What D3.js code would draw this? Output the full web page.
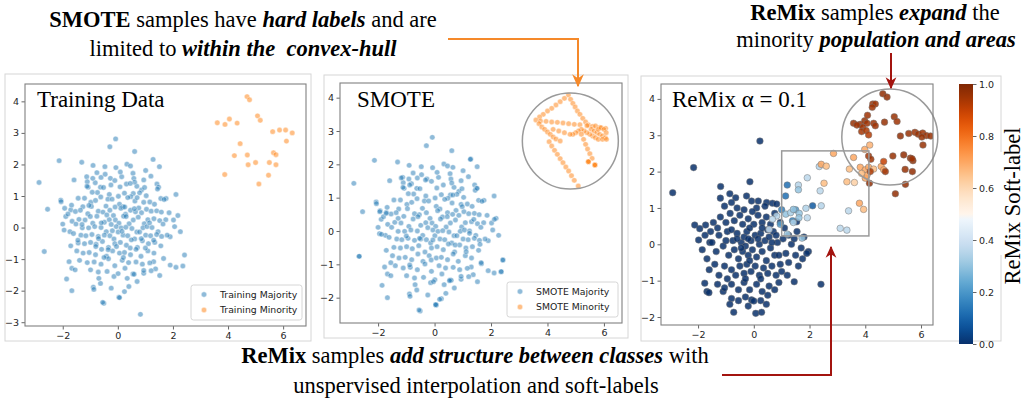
<!DOCTYPE html>
<html>
<head>
<meta charset="utf-8">
<script src="https://cdn.jsdelivr.net/npm/d3@7"></script>
<style>
body{margin:0;background:#fff}
svg{display:block}
.note{font-family:"Liberation Serif";font-size:22.5px;fill:#000;white-space:pre}
.ttl{font-family:"Liberation Serif";font-size:23px;fill:#000}
.leg{font-family:"DejaVu Sans";font-size:9.3px;fill:#222}
</style>
</head>
<body>
<svg id="fig" width="1025" height="403"></svg>
<script>
// ---- data ----
const xTicks = [-2, 0, 2, 4, 6]
const yTicksTrain = [-3, -2, -1, 0, 1, 2, 3, 4]
const yTicksOther = [-2, -1, 0, 1, 2, 3, 4]
const cbTicks = [0, 0.2, 0.4, 0.6, 0.8, 1.0]

// majority points (shared by Training and SMOTE panels)
const majorityPts = [
  [-2.86,1.43],[-2.55,0.58],[-2.67,-0.76],[-2.13,2.12],[-1.31,2.07],[-0.90,1.97],[-0.08,2.81],[-0.29,2.56],[0.61,2.41],
  [0.33,2.01],[0.46,1.95],[1.28,2.16],[1.51,1.93],[-0.47,1.93],[-0.07,1.90],[-2.07,0.87],[-2.06,0.82],[-1.93,0.61],
  [-1.71,0.56],[-1.59,1.51],[-1.13,1.61],[-1.11,1.45],[-1.08,1.28],[-0.63,1.28],[-0.27,1.56],[0.55,1.72],[0.58,1.56],
  [1.20,1.63],[1.42,1.38],[1.48,1.28],[1.75,0.92],[2.11,1.05],[2.18,0.38],[2.27,-0.13],[2.06,0.03],[1.90,-0.29],
  [2.42,-0.87],[2.36,-1.22],[2.11,-1.26],[1.90,-1.19],[1.66,-0.98],[1.52,-1.52],[1.37,-1.31],[-0.51,-2.40],[-0.55,-2.37],
  [0.04,-2.21],[0.06,-2.22],[0.24,-2.03],[-0.24,-1.92],[-0.89,-1.89],[-0.87,-1.96],[-1.67,-2.0],[-1.86,-1.63],[-1.67,-1.29],
  [-1.55,-1.34],[-1.77,-1.08],[-1.95,-0.08],[-2.0,0.11],[-1.89,0.35],[-0.63,-1.77],[-0.69,-1.61],[-0.14,-1.55],[0.34,-1.61],
  [0.55,-1.47],[0.70,-1.71],[0.40,-1.87],[0.94,-1.45],[1.30,-1.08],
  [-1.12,1.31],[-0.82,1.42],[-0.74,1.11],[-0.52,1.27],[-0.31,1.05],[0.08,1.29],[0.31,1.38],[0.56,1.08],[0.69,1.31],
  [0.86,1.19],[0.97,1.27],[1.03,1.01],[1.44,1.22],[-1.21,0.93],[-0.93,1.12],[-0.36,0.90],[0.02,0.99],[0.24,1.09],
  [0.47,0.98],[0.79,1.10],[1.56,0.92],[-1.68,0.71],[-1.44,0.93],[-1.27,0.66],[-0.98,0.80],[-0.81,0.86],[-0.62,0.97],
  [-0.43,0.68],[-0.21,0.90],[0.06,0.74],[0.19,0.66],[0.36,0.95],[0.62,0.84],[0.76,0.62],[0.94,0.80],[1.16,0.81],
  [1.33,0.74],[1.68,0.89],[-1.81,0.43],[-1.54,0.51],[-1.36,0.55],[-1.09,0.44],[-0.96,0.67],[-0.71,0.52],[-0.54,0.49],
  [-0.29,0.55],[-0.16,0.38],[0.11,0.61],[0.28,0.42],[0.46,0.55],[0.64,0.50],[0.86,0.47],[1.04,0.58],[1.21,0.52],
  [1.41,0.53],[1.58,0.49],[1.86,0.47],[-1.66,0.20],[-1.41,0.26],[-1.19,0.24],[-0.91,0.14],[-0.76,0.36],[-0.49,0.17],
  [-0.31,0.25],[-0.09,0.24],[0.04,0.14],[0.21,0.36],[0.41,0.12],[0.56,0.24],[0.74,0.33],[0.96,0.12],[1.09,0.25],
  [1.31,0.28],[1.52,0.22],[1.74,0.25],[2.02,0.24],[-1.74,-0.13],[-1.52,0.11],[-1.29,-0.01],[-1.06,-0.01],[-0.84,0.03],
  [-0.61,0.00],[-0.42,-0.13],[-0.24,0.10],[-0.06,0.03],[0.12,-0.01],[0.29,0.01],[0.51,-0.03],[0.69,-0.14],[0.91,-0.01],
  [1.06,0.03],[1.24,0.00],[1.46,-0.13],[1.64,0.11],[-1.61,-0.19],[-1.34,-0.24],[-1.16,-0.26],[-0.94,-0.22],[-0.71,-0.28],
  [-0.49,-0.24],[-0.29,-0.26],[-0.14,-0.36],[0.01,-0.14],[0.19,-0.24],[0.36,-0.26],[0.61,-0.36],[0.79,-0.14],[1.01,-0.24],
  [1.19,-0.26],[1.41,-0.22],[1.59,-0.28],[1.79,-0.24],[-1.71,-0.58],[-1.44,-0.49],[-1.21,-0.51],[-0.99,-0.47],[-0.79,-0.53],
  [-0.56,-0.44],[-0.34,-0.63],[-0.11,-0.51],[0.09,-0.47],[0.31,-0.56],[0.49,-0.39],[0.71,-0.63],[0.89,-0.42],[1.11,-0.51],
  [1.34,-0.47],[1.56,-0.58],[-1.49,-0.74],[-1.26,-0.81],[-1.04,-0.79],[-0.81,-0.86],[-0.59,-0.69],[-0.41,-0.91],[-0.19,-0.74],
  [0.06,-0.81],[0.24,-0.79],[0.46,-0.86],[0.66,-0.69],[0.84,-0.91],[1.09,-0.74],[1.31,-0.81],[-1.39,-1.04],[-1.11,-1.11],
  [-0.86,-1.09],[-0.61,-1.16],[-0.34,-0.99],[-0.11,-1.21],[0.16,-1.04],[0.39,-1.11],[0.66,-1.09],[0.89,-1.16],[1.16,-1.12],
  [-0.99,-1.34],[-0.71,-1.41],[-0.39,-1.39],[0.01,-1.46],[0.26,-1.29],[0.59,-1.48],[0.94,-1.36],[1.21,-1.37],
  [-0.91,1.56],[-0.61,1.59],[-0.11,1.49],[0.14,1.61],[0.61,1.44],[0.94,1.51],[-0.76,1.74],[0.09,1.76],[-0.46,1.69],[1.01,1.81]
]

// extra points only visible in the Training panel
const trainExtra = [
  [0.82,-2.75],[-0.6,0.15],[-0.2,-0.1],[0.15,-0.12],[-0.4,0.4],[0.3,0.35],[-0.8,-0.6],[0.45,-0.65],[-0.1,0.65],
  [0.7,0.95],[-1.0,0.35],[1.0,-0.65],[-0.5,-0.95],[0.2,-0.95],[-0.25,1.35],[0.45,1.4],[-1.3,0.1],[1.3,-0.4],
  [-0.05,-0.6],[0.6,0.6],[-0.7,-0.35],[-1.45,-0.4],[1.15,0.15],[-0.35,-0.7],[0.85,-0.35],[-1.05,0.7],[0.25,0.65]
]

const trainMinority = [
  [4.69,4.15],[4.78,4.05],[3.61,3.32],[3.89,3.27],[4.05,3.44],[4.33,3.31],[5.07,3.54],[5.17,3.40],[5.62,3.04],
  [5.87,3.09],[6.09,3.09],[6.33,3.0],[6.12,2.74],[4.44,2.66],[4.23,2.28],[4.70,2.30],[5.65,2.37],[5.74,2.31],
  [4.73,1.99],[5.0,2.06],[5.50,2.06],[5.74,1.99],[3.88,1.68],[5.47,1.66],[5.12,1.38]
]

// majority points that appear darker (overlapping copies) in the SMOTE panel
const smoteDup = [
  [1.27,2.15],[0.65,1.91],[-1.18,1.59],[-0.32,1.53],[-0.88,1.38],[1.51,1.28],[0.65,1.08],[0.98,0.73],[-1.94,0.58],
  [-1.71,0.53],[-1.29,0.38],[-0.59,0.43],[0.45,0.43],[1.39,0.35],[2.12,0.35],[-1.88,-0.1],[-1.0,-0.15],[-0.53,-0.22],
  [-0.06,-0.27],[1.24,-0.07],[0.73,-0.42],[1.12,-0.62],[-2.67,-0.76],[-1.55,-0.95],[-0.88,-1.02],[-0.12,-0.87],
  [1.65,-0.95],[2.42,-0.87],[2.36,-1.22],[-0.04,-1.52],[0.18,-2.05],[0.04,-2.21],[0.53,-1.49],[1.61,-0.4]
]

const smoteMinority = [
  [4.74,4.08],[4.6,3.98],[4.45,3.88],[4.3,3.78],[4.15,3.68],[4.0,3.6],[3.85,3.5],[3.72,3.42],[3.59,3.33],
  [4.82,3.95],[4.9,3.83],[4.98,3.72],[5.06,3.6],[5.15,3.5],[5.25,3.38],[5.35,3.27],[5.45,3.18],
  [3.75,3.3],[3.95,3.29],[4.15,3.27],[4.35,3.26],[4.55,3.24],[4.75,3.22],[4.95,3.2],[5.15,3.19],[5.4,3.16],[5.6,3.14],[5.85,3.11],[6.06,3.08],
  [3.7,3.22],[3.8,3.12],[3.9,3.05],[4.0,2.97],[4.1,2.9],[4.2,2.82],[4.3,2.76],[4.45,2.7],
  [4.06,2.68],[4.15,2.55],[4.25,2.42],[4.35,2.3],[4.45,2.17],[4.55,2.05],[4.65,1.92],[4.75,1.8],[4.85,1.66],[4.95,1.52],[5.09,1.35],
  [5.55,3.05],[5.65,3.0],[5.75,2.95],[5.85,2.9],[5.95,2.85],[6.05,2.8],[5.7,3.15],[5.8,3.05],[5.9,3.1],[6.0,3.05],
  [6.08,2.95],[5.6,2.85],[5.7,2.8],[5.5,2.9],[5.4,2.95],[5.3,3.0],[5.2,3.05],[5.1,3.0],[5.0,2.95],[4.9,2.9],
  [5.8,2.75],[5.95,2.75],[6.09,2.75],
  [5.2,2.9],[5.28,2.75],[5.35,2.6],[5.42,2.46],[5.5,2.32],[5.58,2.18],
  [4.2,3.05],[4.4,3.0],[4.6,2.95],[4.8,2.9],
  [5.45,2.08],[5.68,1.98],[5.45,2.08],[5.68,1.98],[5.45,2.08],[5.68,1.98]
]

// ReMix panel: majority (soft-label 0) and mixed samples [x, y, soft-label]
const remixMajority = [
  [-2.91,1.42],[-2.16,2.11],[0.22,2.84],[-0.14,1.72],[-1.19,1.59],[-1.2,1.27],[-0.86,1.39],[-0.65,1.28],[-0.26,1.33],
  [-0.08,1.19],[0.16,1.19],[0.46,1.15],[0.67,1.13],[0.82,1.11],[-2.12,0.53],[-1.73,0.53],[-1.94,0.43],[-1.98,0.12],
  [-1.58,0.05],[-1.68,-0.4],[-1.76,-1.07],[-1.68,-1.3],[-1.61,-1.33],[-1.1,-1.3],[-0.72,-1.87],[0.07,-1.9],[0.28,-1.87],
  [-0.08,-1.53],[0.0,-1.56],[-0.8,-1.49],[-0.86,-1.65],[1.45,-1.03],[2.41,-1.1],[1.96,-0.2],
  [-1.5,0.05],[-1.35,-0.2],[-1.25,0.25],[-1.1,-0.05],[-0.95,0.35],[-0.9,-0.3],[-0.75,0.1],[-0.7,-0.15],[-0.6,0.3],
  [-0.55,-0.4],[-0.45,0.05],[-0.4,-0.2],[-0.35,0.2],[-0.3,-0.05],[-0.25,0.35],[-0.2,-0.3],[-0.1,0.1],[-0.05,-0.15],
  [0.05,0.25],[0.1,-0.35],[0.2,0.0],[0.25,0.3],[0.3,-0.2],[0.4,0.1],[0.45,-0.45],[0.55,0.2],[0.6,-0.1],[0.7,0.35],
  [0.75,-0.3],[0.85,0.05],[0.95,-0.55],[1.05,0.15],[1.15,-0.25],[1.25,-0.5],[1.35,0.0],[1.5,-0.3],[1.6,-0.6],
  [1.75,-0.4],[1.9,-0.25],[-1.45,0.6],[-1.2,0.75],[-1.0,0.6],[-0.85,0.85],[-0.7,0.65],[-0.5,0.8],[-0.4,0.55],
  [-0.2,0.7],[0.0,0.55],[0.15,0.8],[0.3,0.6],[0.45,0.75],[0.6,0.55],[0.75,0.85],[0.95,0.6],[1.1,0.45],[-0.6,1.0],
  [-0.35,0.95],[0.1,1.0],[0.4,1.05],[-1.05,1.05],[-0.8,1.15],[-1.6,-0.7],[-1.4,-0.55],[-1.25,-0.85],[-1.05,-0.6],
  [-0.95,-0.95],[-0.8,-0.7],[-0.65,-0.85],[-0.5,-0.6],[-0.35,-0.8],[-0.25,-0.55],[-0.1,-0.75],[0.05,-0.6],[0.2,-0.85],
  [0.35,-0.65],[0.5,-0.8],[0.65,-0.6],[0.8,-0.85],[1.0,-0.75],[1.2,-0.85],[-1.3,-1.1],[-1.05,-1.2],[-0.8,-1.1],
  [-0.55,-1.25],[-0.35,-1.05],[-0.15,-1.25],[0.1,-1.1],[0.3,-1.3],[0.55,-1.15],[0.75,-1.25],[0.9,-1.05],
  [-0.55,-1.55],[-0.3,-1.45],[0.25,-1.55],[0.5,-1.4],[-0.2,-1.7],[0.45,-1.65],[-1.75,0.25],[-1.85,-0.15],[-1.55,0.35],
  [-1.3,0.45],[-0.15,0.45],[0.5,0.4],[0.8,0.25],[1.25,0.25],[1.45,0.15],[1.7,-0.1],[1.55,0.35],[-0.6,0.15],
  [-0.2,0.15],[0.15,0.15],[-0.45,-0.1],[-0.15,-0.45],[0.3,0.45],[-0.8,0.4],[0.65,0.05],[-1.0,0.1],[0.9,-0.3],
  [-0.05,0.9],[-0.3,-0.95],[0.25,-0.95],[1.54,0.62],[1.8,0.2]
]

const remixSoft = [
  [1.14,1.33,0.12],[1.2,1.63,0.12],[1.39,0.65,0.15],[2.11,1.06,0.08],[1.5,0.95,0.2],[0.95,0.55,0.22],[1.0,0.95,0.15],
  [0.82,0.78,0.35],[0.67,0.69,0.36],[0.55,0.41,0.38],[1.15,0.83,0.3],[1.32,0.87,0.33],[1.42,0.96,0.3],[1.63,0.85,0.3],
  [1.87,0.99,0.34],[1.92,0.73,0.36],[1.62,0.73,0.3],[1.42,0.6,0.34],[1.2,0.28,0.32],[1.73,0.17,0.3],[1.6,1.63,0.35],
  [1.6,1.5,0.3],[1.92,1.83,0.36],[2.38,1.47,0.36],[2.42,1.06,0.35],[2.35,2.14,0.35],[3.4,0.92,0.36],[3.1,0.44,0.36],
  [3.34,0.39,0.36],
  [2.86,2.5,0.7],[2.42,2.2,0.7],[2.6,2.15,0.66],[2.52,1.68,0.66],[3.34,1.72,0.66],[3.61,1.7,0.62],[3.43,2.07,0.66],
  [3.58,2.39,0.7],[3.79,1.13,0.7],[3.94,0.96,0.66],[3.98,2.61,0.7],[4.16,2.73,0.68],[3.82,2.12,0.7],[4.0,2.05,0.7],
  [4.12,2.12,0.7],[4.3,2.07,0.66],[4.57,2.14,0.7],[4.66,2.05,0.7],[4.0,1.82,0.7],[4.06,1.9,0.7],[3.87,1.95,0.66],
  [4.63,4.14,0.97],[4.78,4.05,0.97],[4.27,3.86,0.95],[4.36,3.86,0.95],[4.25,3.77,0.95],[3.58,3.33,0.96],[3.82,3.3,0.95],
  [3.98,3.4,0.96],[4.06,3.33,0.95],[3.91,3.22,0.95],[3.87,3.1,0.94],[4.03,3.13,0.93],[4.12,3.01,0.92],[4.3,3.33,0.95],
  [4.36,3.26,0.95],[4.69,3.36,0.96],[5.04,3.51,0.96],[5.14,3.38,0.95],[5.26,2.98,0.97],[5.56,3.05,0.96],[5.78,3.08,0.95],
  [5.9,3.03,0.96],[6.06,3.06,0.95],[6.19,2.99,0.95],[6.34,2.98,0.96],[6.03,2.95,0.96],[6.07,2.73,0.96],[4.12,2.43,0.94],
  [4.2,2.34,0.95],[4.99,2.43,0.96],[5.38,2.46,0.97],[5.62,2.37,0.96],[5.71,2.3,0.96],[5.43,2.06,0.96],[5.69,2.0,0.97],
  [4.72,2.0,0.95],[4.18,2.0,0.93],[4.15,1.68,0.97],[5.44,1.65,0.97],[5.08,1.39,0.97],[4.66,2.28,0.9],[4.08,3.55,0.95],
  [5.68,2.35,0.95],[3.7,3.28,0.95]
]

const titles = ['Training Data', 'SMOTE', 'ReMix \u03b1 = 0.1']
const legendTrain = ['Training Majority', 'Training Minority']
const legendSmote = ['SMOTE Majority', 'SMOTE Minority']
const cbLabel = 'ReMix Soft-label'

const notes = [
  {x: 243, y: 27, parts: [['SMOTE', 'b'], [' samples have ', ''], ['hard labels', 'bi'], [' and are', '']]},
  {x: 243, y: 56, parts: [['limited to ', ''], ['within the  convex-hull', 'bi']]},
  {x: 875, y: 20, parts: [['ReMix', 'b'], [' samples ', ''], ['expand', 'bi'], [' the', '']]},
  {x: 876, y: 47, parts: [['minority ', ''], ['population and areas', 'bi']]},
  {x: 475, y: 363, parts: [['ReMix', 'b'], [' samples ', ''], ['add structure between classes', 'bi'], [' with', '']]},
  {x: 476, y: 393, parts: [['unspervised interpolation and soft-labels', '']]}
]

// ---- drawing ----
const svg = d3.select('#fig')
const defs = svg.append('defs')

const blue = '#1f77b4', orange = '#ff7f0e'
const cmap = v => v < 0.5 ? d3.interpolateBlues(1 - 2 * v) : d3.interpolateOranges(2 * v - 1)

function arrowHead(id, color, w, h) {
  defs.append('marker')
    .attr('id', id)
    .attr('viewBox', '0 0 10 10')
    .attr('refX', 9).attr('refY', 5)
    .attr('markerUnits', 'userSpaceOnUse')
    .attr('markerWidth', w).attr('markerHeight', h)
    .attr('orient', 'auto')
    .append('path')
    .attr('d', 'M0,0.5 L10,5 L0,9.5 L3,5 z')
    .attr('fill', color)
}
arrowHead('arrO', '#f5892a', 13, 14)
arrowHead('arrR', '#a3140f', 12, 13)

const panels = [
  {frame: [5, 74, 311, 341], box: [25, 84, 306, 326], xDom: [-3.37, 6.83], yDom: [-3.12, 4.55], yTicks: yTicksTrain, titleX: 37},
  {frame: [324, 75, 628, 338], box: [340, 83, 622, 323], xDom: [-3.35, 6.64], yDom: [-2.76, 4.44], yTicks: yTicksOther, titleX: 357},
  {frame: [641, 76, 1001, 341], box: [661, 84, 933, 325], xDom: [-3.33, 6.43], yDom: [-2.22, 4.41], yTicks: yTicksOther, titleX: 672}
]

const scales = panels.map((p, i) => {

  svg.append('rect')
    .attr('x', p.frame[0]).attr('y', p.frame[1])
    .attr('width', p.frame[2] - p.frame[0]).attr('height', p.frame[3] - p.frame[1])
    .attr('fill', 'none').attr('stroke', '#d6d6d6').attr('stroke-width', 1)

  const x = d3.scaleLinear().domain(p.xDom).range([p.box[0], p.box[2]])
  const y = d3.scaleLinear().domain(p.yDom).range([p.box[3], p.box[1]])

  defs.append('clipPath').attr('id', 'clip' + i)
    .append('rect')
    .attr('x', p.box[0]).attr('y', p.box[1])
    .attr('width', p.box[2] - p.box[0]).attr('height', p.box[3] - p.box[1])

  const xa = svg.append('g')
    .attr('transform', `translate(0,${p.box[3]})`)
    .call(d3.axisBottom(x).tickValues(xTicks).tickSize(3.5).tickPadding(2.5).tickFormat(d3.format('d')))
  const ya = svg.append('g')
    .attr('transform', `translate(${p.box[0]},0)`)
    .call(d3.axisLeft(y).tickValues(p.yTicks).tickSize(3.5).tickPadding(2.5).tickFormat(d3.format('d')))

  ;[xa, ya].forEach(a => {
    a.select('.domain').remove()
    a.attr('font-family', 'DejaVu Sans').attr('font-size', 9.5)
    a.selectAll('.tick line').attr('stroke', '#666')
    a.selectAll('.tick text').attr('fill', '#262626')
  })

  return {x, y, p, i}
})

function dots(s, data, r, fill, opacity, stroke, sw) {
  svg.append('g')
    .attr('clip-path', `url(#clip${s.i})`)
    .selectAll('circle')
    .data(data)
    .enter()
    .append('circle')
    .attr('cx', d => s.x(d[0]))
    .attr('cy', d => s.y(d[1]))
    .attr('r', r)
    .attr('fill', typeof fill === 'function' ? fill : () => fill)
    .attr('fill-opacity', opacity)
    .attr('stroke', stroke)
    .attr('stroke-width', sw)
}

// panel 1 : training data
dots(scales[0], majorityPts.concat(trainExtra), 2.7, blue, 0.5, '#fff', 0.4)
dots(scales[0], trainMinority, 2.7, orange, 0.5, '#fff', 0.4)

// panel 2 : SMOTE
dots(scales[1], majorityPts.concat(smoteDup), 2.7, blue, 0.5, '#fff', 0.4)
dots(scales[1], smoteMinority, 2.7, orange, 0.5, '#fff', 0.4)

// panel 3 : ReMix
dots(scales[2], remixMajority.map(d => [d[0], d[1], 0]), 3.3, d => cmap(d[2]), 0.85, '#777', 0.5)
dots(scales[2], remixSoft, 3.3, d => cmap(d[2]), 0.85, '#777', 0.5)

// annotation shapes (data coordinates)
const s2 = scales[1], s3 = scales[2]
svg.append('circle')
  .attr('cx', s2.x(4.81)).attr('cy', s2.y(2.70)).attr('r', 48)
  .attr('fill', 'none').attr('stroke', '#9a9a9a').attr('stroke-width', 1.5)
svg.append('circle')
  .attr('cx', s3.x(4.88)).attr('cy', s3.y(2.95)).attr('r', 48)
  .attr('fill', 'none').attr('stroke', '#9a9a9a').attr('stroke-width', 1.5)
svg.append('rect')
  .attr('x', s3.x(1.0)).attr('y', s3.y(2.57))
  .attr('width', s3.x(4.13) - s3.x(1.0)).attr('height', s3.y(0.23) - s3.y(2.57))
  .attr('fill', 'none').attr('stroke', '#9a9a9a').attr('stroke-width', 1.5)

// spines + titles
scales.forEach((s, i) => {
  const p = s.p
  svg.append('rect')
    .attr('x', p.box[0]).attr('y', p.box[1])
    .attr('width', p.box[2] - p.box[0]).attr('height', p.box[3] - p.box[1])
    .attr('fill', 'none').attr('stroke', '#808080').attr('stroke-width', 1.1)
  svg.append('text').attr('class', 'ttl')
    .attr('x', p.titleX).attr('y', 107)
    .text(titles[i])
})

// legends
function legend(s, labels) {
  const p = s.p
  const w = 111, h = 35
  const lx = p.box[2] - 4 - w, ly = p.box[3] - 6 - h
  const g = svg.append('g').attr('transform', `translate(${lx},${ly})`)
  g.append('rect').attr('width', w).attr('height', h).attr('rx', 2.5)
    .attr('fill', '#fff').attr('fill-opacity', 0.8).attr('stroke', '#cccccc').attr('stroke-width', 0.8)
  labels.forEach((t, k) => {
    g.append('circle').attr('cx', 13).attr('cy', 9.5 + k * 15.5).attr('r', 2.7)
      .attr('fill', k ? orange : blue).attr('fill-opacity', 0.5).attr('stroke', '#fff').attr('stroke-width', 0.4)
    g.append('text').attr('class', 'leg').attr('x', 29).attr('y', 9.5 + k * 15.5).attr('dy', '0.35em').text(t)
  })
}
legend(scales[0], legendTrain)
legend(scales[1], legendSmote)

// colour bar
const cbX = 959, cbW = 14, cbTop = 84, cbBot = 344
const cbScale = d3.scaleLinear().domain([0, 1]).range([cbBot, cbTop])
const grad = defs.append('linearGradient').attr('id', 'cbGrad')
  .attr('x1', 0).attr('y1', 1).attr('x2', 0).attr('y2', 0)
grad.selectAll('stop')
  .data(d3.range(0, 1.0001, 0.02))
  .enter()
  .append('stop')
  .attr('offset', d => d)
  .attr('stop-color', d => cmap(d))
svg.append('rect')
  .attr('x', cbX).attr('y', cbTop).attr('width', cbW).attr('height', cbBot - cbTop)
  .attr('fill', 'url(#cbGrad)')
const cbAxis = svg.append('g')
  .attr('transform', `translate(${cbX + cbW},0)`)
  .call(d3.axisRight(cbScale).tickValues(cbTicks).tickSize(3.5).tickPadding(2.5).tickFormat(d3.format('.1f')))
cbAxis.select('.domain').remove()
cbAxis.attr('font-family', 'DejaVu Sans').attr('font-size', 9.5)
cbAxis.selectAll('.tick line').attr('stroke', '#666')
cbAxis.selectAll('.tick text').attr('fill', '#262626')

svg.append('rect').attr('x', 998).attr('y', 152).attr('width', 6).attr('height', 103).attr('fill', '#fff')
svg.append('text').attr('class', 'note')
  .attr('transform', 'translate(1020,206) rotate(-90)')
  .attr('text-anchor', 'middle')
  .text(cbLabel)

// arrows
svg.append('path')
  .attr('d', d3.line()([[448, 39], [578, 39], [578, 86]]))
  .attr('fill', 'none').attr('stroke', '#f5892a').attr('stroke-width', 2)
  .attr('marker-end', 'url(#arrO)')
svg.append('path')
  .attr('d', d3.line()([[891, 53], [891, 88]]))
  .attr('fill', 'none').attr('stroke', '#a3140f').attr('stroke-width', 2)
  .attr('marker-end', 'url(#arrR)')
svg.append('path')
  .attr('d', d3.line()([[722, 375], [831, 375], [831, 247]]))
  .attr('fill', 'none').attr('stroke', '#a3140f').attr('stroke-width', 2)
  .attr('marker-end', 'url(#arrR)')

// annotation text
notes.forEach(n => {
  const t = svg.append('text').attr('class', 'note')
    .attr('x', n.x).attr('y', n.y).attr('text-anchor', 'middle')
  n.parts.forEach(([str, st]) => {
    t.append('tspan')
      .attr('font-weight', st.includes('b') ? 'bold' : 'normal')
      .attr('font-style', st.includes('i') ? 'italic' : 'normal')
      .text(str)
  })
})
</script>
</body>
</html>
